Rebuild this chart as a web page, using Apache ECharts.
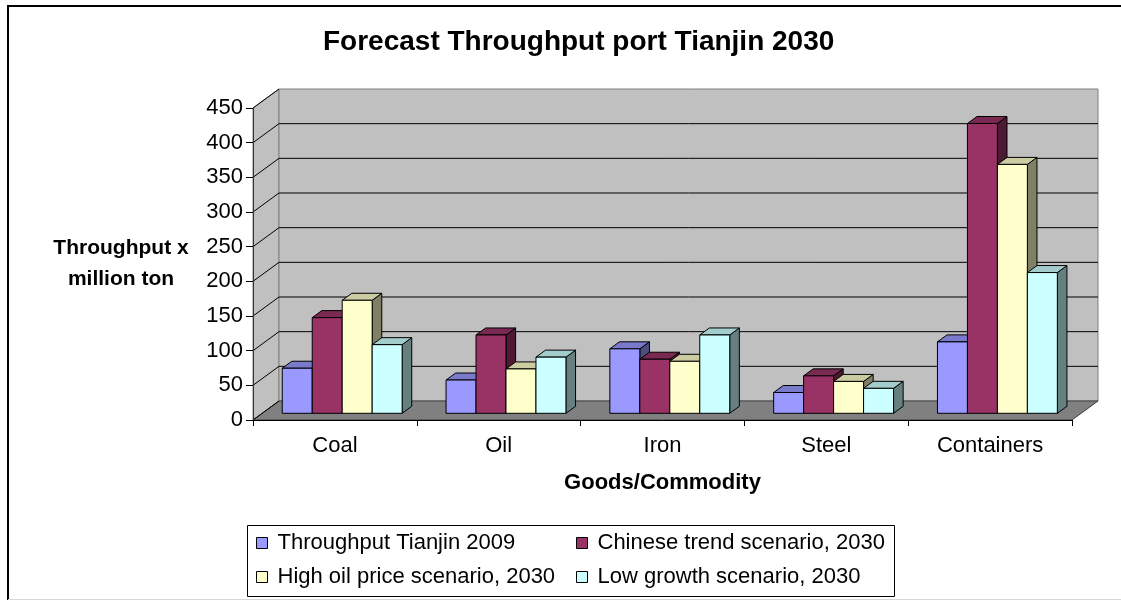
<!DOCTYPE html>
<html>
<head>
<meta charset="utf-8">
<title>Forecast Throughput port Tianjin 2030</title>
<script src="https://cdn.jsdelivr.net/npm/echarts@6/dist/echarts.min.js"></script>
<style>
  html, body { margin: 0; padding: 0; background: #fff; }
  #chart { width: 1121px; height: 600px; }
</style>
</head>
<body>
<div id="chart"></div>
<script>
// Goods categories and throughput (million ton) per scenario
const categories = ['Coal', 'Oil', 'Iron', 'Steel', 'Containers'];
const seriesNames = [
  'Throughput Tianjin 2009',
  'Chinese trend scenario, 2030',
  'High oil price scenario, 2030',
  'Low growth scenario, 2030'
];
const throughput2009   = [65, 48, 93, 30, 103];
const chineseTrend2030 = [138, 113, 78, 54, 418];
const highOilPrice2030 = [163, 64, 75, 46, 359];
const lowGrowth2030    = [99, 81, 113, 36, 203];
const yTicks = [0, 50, 100, 150, 200, 250, 300, 350, 400, 450];

const seriesValues = [throughput2009, chineseTrend2030, highOilPrice2030, lowGrowth2030];

// Face colours: front, top (slightly darker), side (darkest)
const frontColors = ['#9999FF', '#993366', '#FFFFCC', '#CCFFFF'];
const topColors   = ['#7A7ACC', '#7A2952', '#CCCCA3', '#A3CCCC'];
const sideColors  = ['#4D4D80', '#4D1A33', '#808066', '#668080'];

const FONT = '"Liberation Sans", Arial, sans-serif';
const FONT_SIZE = 22;

// Pseudo-3D geometry (pixels)
const WALL_DX = 26, WALL_DY = -19;           // depth of the whole plot box
const BAR_SHIFT_X = 9.1, BAR_SHIFT_Y = -6.7; // bars sit slightly behind the front plane
const BAR_DX = 9.6, BAR_DY = -7;             // depth of a single bar
const GROUP_START = 0.123;                   // fraction of band before first bar
const BAR_W = 0.183;                         // fraction of band per bar

const yMax = yTicks[yTicks.length - 1];
const yInterval = yTicks[1] - yTicks[0];

// Walls, floor and gridlines of the 3D box
function renderFrame(params, api) {
  const cs = params.coordSys;
  const x0 = cs.x, x1 = cs.x + cs.width;
  const yTop = cs.y, yBot = cs.y + cs.height;
  const t = api.value(1);
  const y = api.coord([0, t])[1];
  const children = [];
  if (params.dataIndex === 0) {
    children.push({
      type: 'polygon',
      shape: { points: [[x0, yBot], [x0, yTop], [x0 + WALL_DX, yTop + WALL_DY], [x0 + WALL_DX, yBot + WALL_DY]] },
      style: { fill: '#C0C0C0', stroke: '#808080', lineWidth: 1 }
    });
    children.push({
      type: 'rect',
      shape: { x: x0 + WALL_DX, y: yTop + WALL_DY, width: cs.width, height: cs.height },
      style: { fill: '#C0C0C0', stroke: '#808080', lineWidth: 1 }
    });
    children.push({
      type: 'polygon',
      shape: { points: [[x0, yBot], [x1, yBot], [x1 + WALL_DX, yBot + WALL_DY], [x0 + WALL_DX, yBot + WALL_DY]] },
      style: { fill: '#808080', stroke: '#404040', lineWidth: 1 }
    });
  }
  if (t > 0 && t < yMax) {
    children.push({
      type: 'line',
      shape: { x1: x0 + WALL_DX, y1: y + WALL_DY, x2: x1 + WALL_DX, y2: y + WALL_DY },
      style: { stroke: '#000', lineWidth: 1 }
    });
  }
  children.push({
    type: 'line',
    shape: { x1: x0, y1: y, x2: x0 + WALL_DX, y2: y + WALL_DY },
    style: { stroke: '#000', lineWidth: 1 }
  });
  return { type: 'group', children: children };
}

// One box-shaped column: side face, top face, front face
function makeBarRenderer(si) {
  return function (params, api) {
    const ci = api.value(0);
    const v = api.value(1);
    const band = api.size([1, 0])[0];
    const base = api.coord([ci, 0]);
    const top = api.coord([ci, v]);
    const w = band * BAR_W;
    const x = base[0] - band / 2 + band * GROUP_START + si * w + BAR_SHIFT_X;
    const yb = base[1] + BAR_SHIFT_Y;
    const yt = top[1] + BAR_SHIFT_Y;
    const edge = { stroke: '#000', lineWidth: 1, lineJoin: 'miter' };
    return {
      type: 'group',
      children: [
        {
          type: 'polygon',
          shape: { points: [[x + w, yt], [x + w + BAR_DX, yt + BAR_DY], [x + w + BAR_DX, yb + BAR_DY], [x + w, yb]] },
          style: Object.assign({ fill: sideColors[si] }, edge)
        },
        {
          type: 'polygon',
          shape: { points: [[x, yt], [x + w, yt], [x + w + BAR_DX, yt + BAR_DY], [x + BAR_DX, yt + BAR_DY]] },
          style: Object.assign({ fill: topColors[si] }, edge)
        },
        {
          type: 'rect',
          shape: { x: x, y: yt, width: w, height: yb - yt },
          style: Object.assign({ fill: frontColors[si] }, edge)
        }
      ]
    };
  };
}

const chart = echarts.init(document.getElementById('chart'), null, { renderer: 'canvas' });

const barSeries = seriesValues.map(function (vals, si) {
  return {
    type: 'custom',
    name: seriesNames[si],
    renderItem: makeBarRenderer(si),
    encode: { x: 0, y: 1 },
    itemStyle: { color: frontColors[si], borderColor: '#000', borderWidth: 1 },
    data: vals.map(function (v, ci) { return [ci, v]; }),
    z: 3 + si
  };
});

// Legend laid out as a 2 x 2 table: one legend component per cell
const legendCells = [
  { name: seriesNames[0], left: 256, top: 532 },
  { name: seriesNames[1], left: 576, top: 532 },
  { name: seriesNames[2], left: 256, top: 566 },
  { name: seriesNames[3], left: 576, top: 566 }
];
const legends = legendCells.map(function (c) {
  return {
    data: [c.name],
    left: c.left,
    top: c.top,
    padding: 0,
    itemWidth: 11,
    itemHeight: 11,
    icon: 'rect',
    itemStyle: { borderColor: '#000', borderWidth: 1 },
    textStyle: { fontFamily: FONT, fontSize: FONT_SIZE, color: '#000', padding: [0, 0, 0, 5] }
  };
});

chart.setOption({
  backgroundColor: '#fff',
  animation: false,
  title: {
    text: 'Forecast Throughput port Tianjin 2030',
    left: 318,
    top: 23,
    textStyle: { fontFamily: FONT, fontSize: 28, fontWeight: 'bold', color: '#000' }
  },
  legend: legends,
  grid: {
    left: 253, right: 49, top: 108, bottom: 180,
    containLabel: false,
    outerBoundsMode: 'none'
  },
  xAxis: {
    type: 'category',
    data: categories,
    z: 10,
    name: 'Goods/Commodity',
    nameLocation: 'middle',
    nameGap: 52,
    nameTextStyle: { fontFamily: FONT, fontSize: FONT_SIZE, fontWeight: 'bold', color: '#000' },
    axisLine: { lineStyle: { color: '#000', width: 1 } },
    axisTick: { show: true, length: 6, lineStyle: { color: '#000' } },
    axisLabel: { fontFamily: FONT, fontSize: FONT_SIZE, color: '#000', margin: 15 },
    splitLine: { show: false }
  },
  yAxis: {
    type: 'value',
    min: 0,
    max: yMax,
    interval: yInterval,
    z: 10,
    axisLine: { show: true, lineStyle: { color: '#333', width: 1 } },
    axisTick: { show: true, length: 7, lineStyle: { color: '#000' } },
    axisLabel: { fontFamily: FONT, fontSize: FONT_SIZE, color: '#000', margin: 10 },
    splitLine: { show: false }
  },
  graphic: [
    {
      type: 'polyline',
      shape: { points: [[8, 600], [8, 6], [1121, 6]] },
      style: { stroke: '#000', lineWidth: 2, fill: null },
      z: 0
    },
    {
      type: 'line',
      shape: { x1: 8, y1: 599.5, x2: 1121, y2: 599.5 },
      style: { stroke: '#d8d8d8', lineWidth: 1 },
      z: 0
    },
    {
      type: 'rect',
      shape: { x: 247.5, y: 525.5, width: 647, height: 71 },
      style: { fill: '#fff', stroke: '#000', lineWidth: 1 },
      z: 0
    },
    {
      type: 'text',
      x: 121,
      y: 264,
      style: {
        text: 'Throughput x\nmillion ton',
        fontFamily: FONT,
        fontSize: 21,
        fontWeight: 'bold',
        lineHeight: 31,
        fill: '#000',
        align: 'center',
        verticalAlign: 'middle'
      },
      z: 5
    }
  ],
  series: [
    {
      type: 'custom',
      name: 'frame',
      renderItem: renderFrame,
      encode: { x: 0, y: 1 },
      data: yTicks.map(function (t) { return [0, t]; }),
      silent: true,
      z: 1
    }
  ].concat(barSeries)
});
</script>
</body>
</html>
